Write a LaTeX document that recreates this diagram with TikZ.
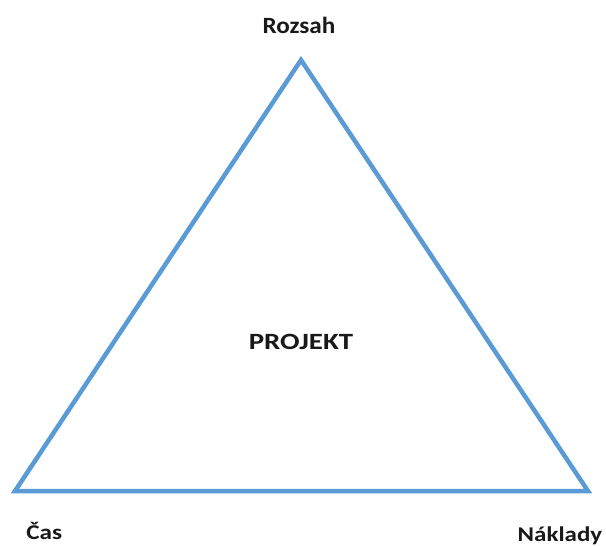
\documentclass[tikz,border=0pt]{standalone}
\usepackage{fontspec}
\usepackage{graphicx}
\setmainfont{Carlito}
\definecolor{edgeblue}{HTML}{5B9BD5}
\begin{document}
\begin{tikzpicture}[x=1pt,y=-1pt,
  side/.style={draw=edgeblue,line width=4.5pt,line join=miter},
  toplabel/.style={font=\bfseries\fontsize{23.3}{27}\selectfont,text=black!90,inner sep=0pt,anchor=base},
  baselabel/.style={font=\bfseries\fontsize{21}{25}\selectfont,text=black!90,inner sep=0pt,anchor=base},
  centre/.style={font=\bfseries\fontsize{23.3}{27}\selectfont,text=black!90,inner sep=0pt,anchor=base}]
  \useasboundingbox (0,0) rectangle (606,547);
  % corners of the triangle
  \coordinate (top) at (301,60);
  \coordinate (left) at (15,491);
  \coordinate (right) at (588,491);
  \draw[side] (top) -- (left) -- (right) -- cycle;
  % labels
  \node[toplabel] (rozsah) at (299,33.3) {\scalebox{1.08}[1]{Rozsah}};
  \node[baselabel] (cas) at (44.2,539) {\scalebox{1.2}[1]{Čas}};
  \node[baselabel] (naklady) at (560,541.5) {\scalebox{1.19}[1]{Náklady}};
  \node[centre] (projekt) at (301,349) {\scalebox{1.24}[1]{PROJEKT}};
\end{tikzpicture}
\end{document}
